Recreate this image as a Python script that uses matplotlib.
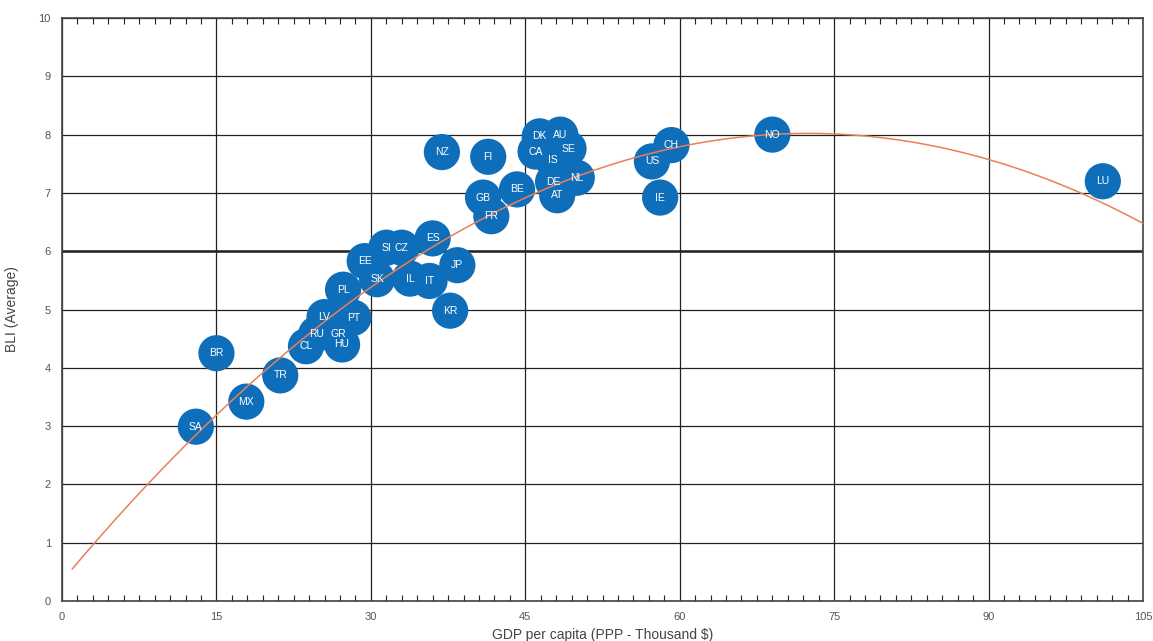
import numpy as np
import matplotlib.pyplot as plt
from matplotlib.ticker import MultipleLocator

# countries: GDP per capita (PPP, thousand $) vs average Better Life Index
codes = ['SA', 'BR', 'MX', 'TR', 'CL', 'RU', 'LV', 'GR', 'HU', 'PT',
         'PL', 'EE', 'SK', 'SI', 'CZ', 'IL', 'IT', 'ES', 'JP', 'KR',
         'NZ', 'FI', 'GB', 'FR', 'BE', 'DK', 'AU', 'CA', 'SE', 'IS',
         'DE', 'AT', 'NL', 'US', 'IE', 'CH', 'NO', 'LU']
gdp = [13.0, 15.0, 17.9, 21.2, 23.7, 24.7, 25.5, 26.8, 27.2, 28.3,
       27.3, 29.4, 30.6, 31.5, 33.0, 33.8, 35.7, 36.0, 38.4, 37.7,
       36.9, 41.4, 40.9, 41.7, 44.2, 46.4, 48.4, 46.0, 49.2, 47.7,
       47.7, 48.1, 50.0, 57.3, 58.1, 59.2, 69.0, 101.1]
bli = [2.99, 4.25, 3.42, 3.87, 4.37, 4.58, 4.87, 4.58, 4.40, 4.86,
       5.34, 5.83, 5.52, 6.06, 6.06, 5.53, 5.49, 6.22, 5.76, 4.98,
       7.70, 7.62, 6.92, 6.60, 7.06, 7.97, 8.00, 7.71, 7.76, 7.56,
       7.19, 6.96, 7.26, 7.54, 6.92, 7.82, 8.00, 7.20]

# quadratic trend line (a*x^2 + b*x + c)
trend_coef = [-0.001461, 0.21185, 0.341]
trend_range = (1, 105)

x_ticks = [0, 15, 30, 45, 60, 75, 90, 105]
y_ticks = list(range(0, 11))

plt.rcParams['font.family'] = ['Liberation Sans', 'DejaVu Sans']

fig = plt.figure(figsize=(11.53, 6.41), dpi=100)
ax = fig.add_axes([0.0538, 0.0624, 0.9375, 0.9095])

ax.scatter(gdp, bli, s=680, color='#0F6EB9', edgecolors='none', zorder=3)

xs = np.linspace(trend_range[0], trend_range[1], 300)
ax.plot(xs, np.polyval(trend_coef, xs), color='#E8805A', lw=1.1, zorder=4)

for c, x, y in zip(codes, gdp, bli):
    ax.text(x, y, c, color='white', fontsize=7.5, ha='center', va='center', zorder=5)

ax.set_xlim(0, 105)
ax.set_ylim(0, 10)
ax.set_xticks(x_ticks)
ax.set_yticks(y_ticks)
ax.xaxis.set_minor_locator(MultipleLocator(1.5))
ax.grid(True, which='major', color='#222222', lw=0.9, zorder=1)
ax.axhline(6, color='#222222', lw=1.8, zorder=1)

ax.tick_params(axis='x', which='both', direction='in', top=True, bottom=True,
               labelsize=8, labelcolor='#555555', pad=8)
ax.tick_params(axis='x', which='minor', length=4, width=0.8, color='#222222')
ax.tick_params(axis='x', which='major', length=0)
ax.tick_params(axis='y', length=0, labelsize=8, labelcolor='#555555', pad=8)
for s in ax.spines.values():
    s.set_color('#444444')
    s.set_linewidth(1.2)

ax.set_ylabel('BLI (Average)', fontsize=10, color='#444444', labelpad=14)
ax.set_xlabel('GDP per capita (PPP - Thousand $)', fontsize=10, color='#444444', labelpad=4)

fig.savefig('out.png', dpi=100)
